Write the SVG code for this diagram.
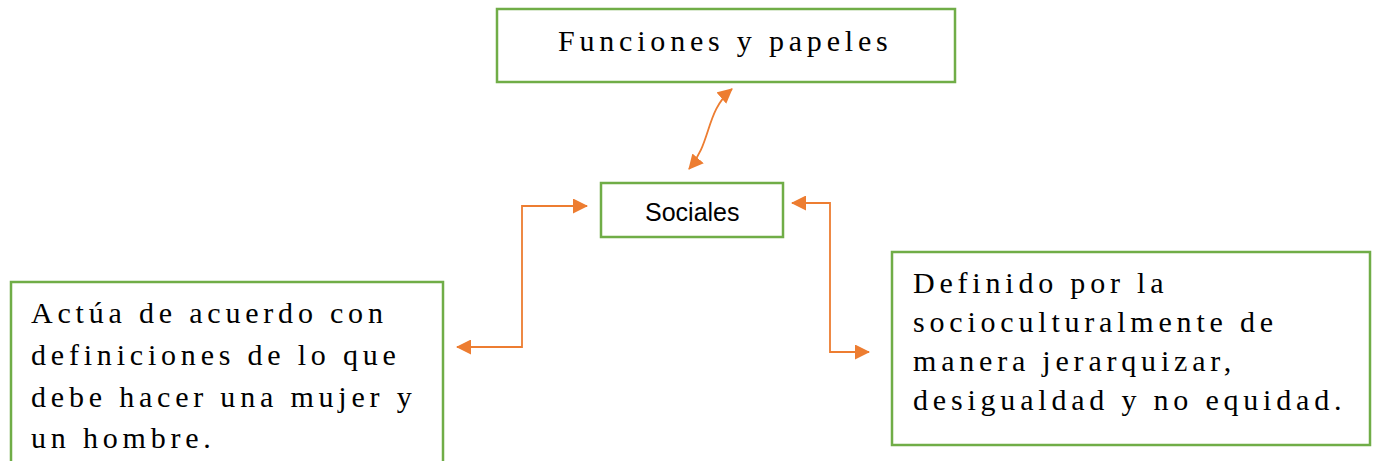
<svg xmlns="http://www.w3.org/2000/svg" width="1374" height="461" viewBox="0 0 1374 461">
<style>
.box{fill:#FFFFFF;stroke:#70AD47;stroke-width:2.5}
.t{font-family:"Liberation Serif","Times New Roman",serif;font-size:30px;letter-spacing:4.8px;fill:#000}
.s{font-family:"Liberation Sans",Arial,sans-serif;font-size:25px;fill:#000}
.c{fill:none;stroke:#ED7D31;stroke-width:1.8}
</style>
<defs>
<marker id="ah" viewBox="0 0 15 15" refX="14" refY="7.5" markerWidth="15" markerHeight="15" markerUnits="userSpaceOnUse" orient="auto-start-reverse">
<path d="M0,0 L15,7.5 L0,15 z" fill="#ED7D31"/>
</marker>
</defs>
<rect width="1374" height="461" fill="#FFFFFF"/>
<g id="node-funciones">
<rect class="box" x="497" y="9" width="458" height="73"/>
<text class="t" x="558" y="51">Funciones y papeles</text>
</g>
<g id="node-sociales">
<rect class="box" x="601" y="183" width="182" height="54"/>
<text class="s" x="645" y="221">Sociales</text>
</g>
<g id="node-actua">
<rect class="box" x="11" y="282" width="432" height="200"/>
<text class="t" x="31" y="323">Actúa de acuerdo con</text>
<text class="t" x="31" y="365">definiciones de lo que</text>
<text class="t" x="31" y="407">debe hacer una mujer y</text>
<text class="t" x="31" y="448">un hombre.</text>
</g>
<g id="node-definido">
<rect class="box" x="892" y="252" width="478" height="193"/>
<text class="t" x="913" y="293">Definido por la</text>
<text class="t" x="913" y="332">socioculturalmente de</text>
<text class="t" x="913" y="371">manera jerarquizar,</text>
<text class="t" x="913" y="410">desigualdad y no equidad.</text>
</g>
<g id="connectors">
<path class="c" d="M689,169 C712,142 705,112 732,89" marker-start="url(#ah)" marker-end="url(#ah)"/>
<path class="c" d="M457,347 L522,347 L522,206 L587,206" marker-start="url(#ah)" marker-end="url(#ah)"/>
<path class="c" d="M792,203 L830,203 L830,352 L869,352" marker-start="url(#ah)" marker-end="url(#ah)"/>
</g>
</svg>
